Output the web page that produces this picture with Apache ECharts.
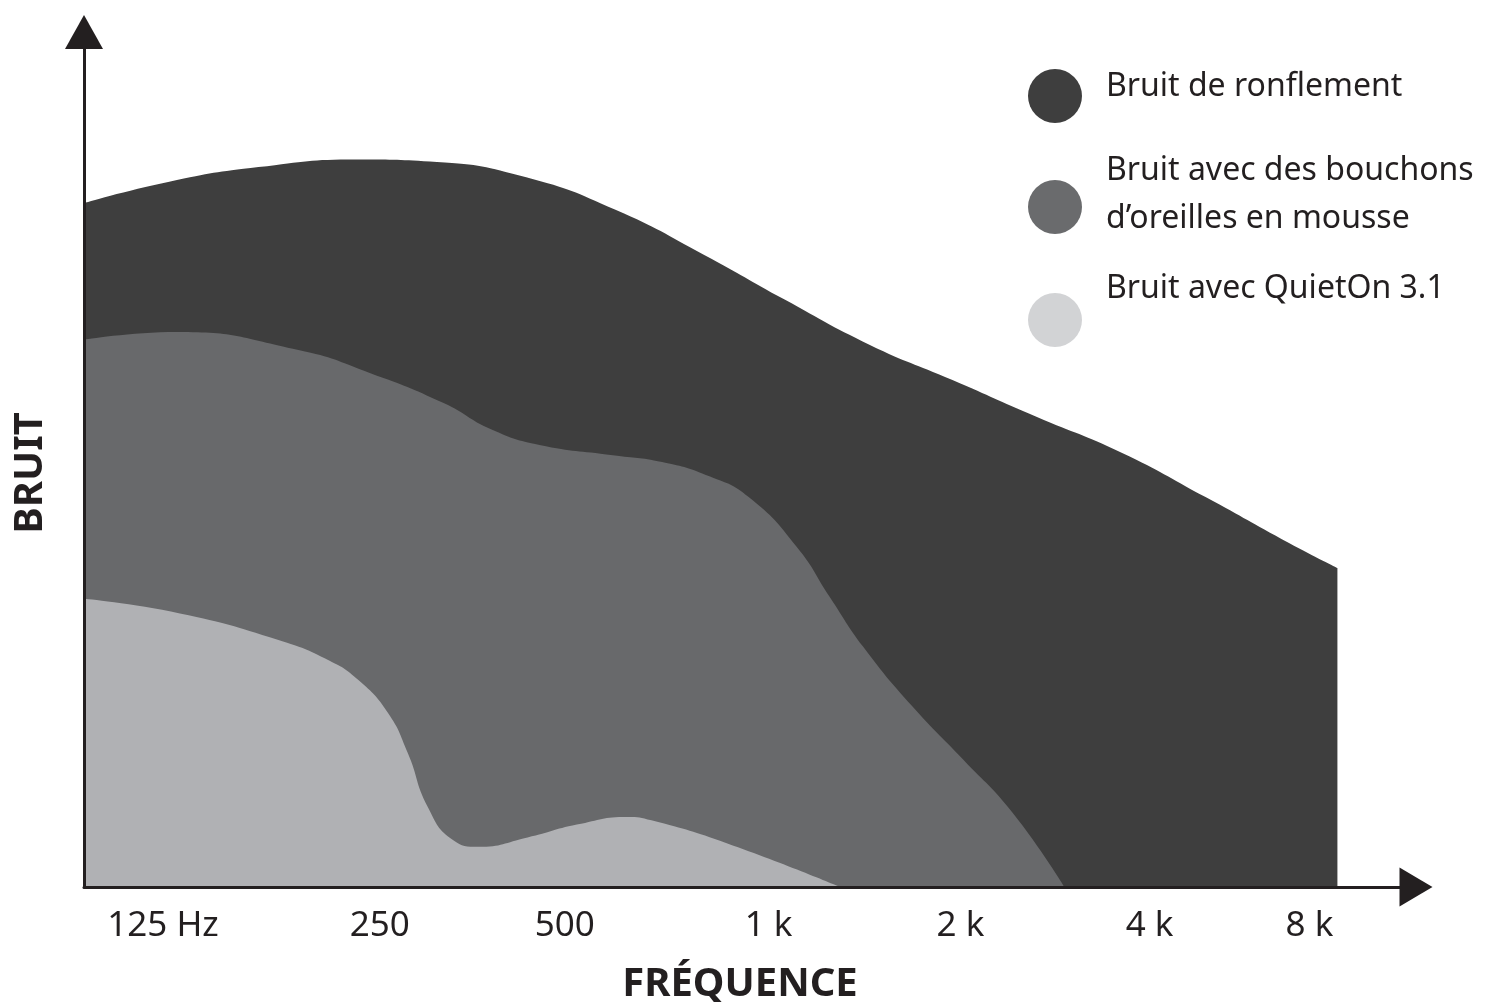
<!DOCTYPE html>
<html><head><meta charset="utf-8">
<script src="https://cdn.jsdelivr.net/npm/echarts@6/dist/echarts.min.js"></script>
<style>html,body{margin:0;padding:0;background:#fff}#c{width:1486px;height:1002px}</style>
</head><body><div id="c"></div>
<script>
// Tick positions along the frequency axis (0-100 scale) and their labels
const tickPositions = [5.93, 22.2, 36.1, 51.4, 65.8, 80.0, 92.0];
const tickLabels = ['125 Hz', '250', '500', '1 k', '2 k', '4 k', '8 k'];

const seriesNames = ['Bruit de ronflement', 'Bruit avec des bouchons\nd’oreilles en mousse', 'Bruit avec QuietOn 3.1'];

// Snoring noise
const snoringX = [0, 6.4, 13.1, 20.5, 26.5, 33.2, 39.9, 46.6, 52.6, 59.0, 65.2, 71.5, 77.9, 84.2, 90.5, 94.1];
const snoringY = [80.0, 82.5, 84.2, 85.1, 84.8, 83.0, 79.2, 73.9, 68.7, 63.4, 59.3, 55.0, 50.8, 45.6, 40.2, 37.3];

// Foam earplugs
const foamX = [0, 7.0, 16.1, 21.5, 27.0, 30.6, 34.2, 39.7, 43.4, 47.0, 49.9, 53.5, 56.0, 58.5, 62.2, 66.0, 69.7, 73.6];
const foamY = [64.0, 64.9, 62.8, 60.1, 56.6, 53.5, 51.7, 50.5, 49.7, 48.0, 45.6, 39.8, 33.9, 28.1, 21.1, 14.9, 8.7, 0];

// QuietOn 3.1
const quietX = [0, 7.2, 14.6, 18.4, 20.6, 22.8, 24.3, 25.8, 27.7, 29.6, 33.3, 37.0, 40.8, 42.6, 48.3, 56.8];
const quietY = [33.7, 32.0, 28.9, 26.5, 24.2, 20.4, 15.7, 9.4, 5.5, 4.7, 5.8, 7.3, 8.2, 7.8, 5.1, 0];

const areaColors = ['#3e3e3e', '#68696b', '#b0b1b4'];
const legendColors = ['#3e3e3e', '#6a6b6d', '#d2d3d5'];
const FONT = '"Noto Sans", "Open Sans", sans-serif';
const INK = '#231f20';

const zip = (xs, ys) => xs.map((x, i) => [x, ys[i]]);

const chart = echarts.init(document.getElementById('c'), null, {renderer: 'canvas'});

const mkSeries = (name, xs, ys, color) => ({
  name, type: 'line', data: zip(xs, ys), smooth: 0.5, symbol: 'none', showSymbol: false,
  lineStyle: {width: 0, color}, itemStyle: {color},
  areaStyle: {color, opacity: 1}, silent: true
});

const legendY = [96, 207, 320];
const legendTextY = [87, 195, 289];
const graphics = [];
seriesNames.forEach((n, i) => {
  graphics.push({type: 'circle', shape: {cx: 1055, cy: legendY[i], r: 27}, style: {fill: legendColors[i]}, z: 10});
  graphics.push({type: 'text', x: 1106, y: legendTextY[i], z: 10,
    style: {text: n, font: '32px ' + FONT, fill: INK, verticalAlign: 'middle', align: 'left', lineHeight: 48}});
});

chart.setOption({
  animation: false,
  backgroundColor: '#fff',
  grid: {left: 84, right: 70, top: 32, bottom: 115, containLabel: false, outerBoundsMode: 'none'},
  xAxis: {
    type: 'value', min: 0, max: 100, z: 5,
    axisLine: {show: true, onZero: false, lineStyle: {color: INK, width: 3}, symbol: ['none', 'triangle'], symbolSize: [39, 33]},
    axisTick: {show: false}, splitLine: {show: false},
    axisLabel: {
      customValues: tickPositions,
      formatter: v => { const i = tickPositions.findIndex(p => Math.abs(p - v) < 1e-6); return i >= 0 ? tickLabels[i] : ''; },
      fontSize: 35, color: INK, fontFamily: FONT, margin: 39, verticalAlign: 'middle', lineHeight: 35
    },
    name: 'FRÉQUENCE', nameLocation: 'middle', nameGap: 78,
    nameTextStyle: {fontSize: 40, fontWeight: 'bold', color: INK, fontFamily: FONT, padding: [0, 20, 0, 0]}
  },
  yAxis: {
    type: 'value', min: 0, max: 100, z: 5,
    axisLine: {show: true, onZero: false, lineStyle: {color: INK, width: 3}, symbol: ['none', 'triangle'], symbolSize: [38, 34]},
    axisTick: {show: false}, splitLine: {show: false}, axisLabel: {show: false},
    name: 'BRUIT', nameLocation: 'middle', nameGap: 33,
    nameTextStyle: {fontSize: 40, fontWeight: 'bold', color: INK, fontFamily: FONT, padding: [0, 27, 0, 0]}
  },
  series: [
    mkSeries(seriesNames[0], snoringX, snoringY, areaColors[0]),
    mkSeries(seriesNames[1], foamX, foamY, areaColors[1]),
    mkSeries(seriesNames[2], quietX, quietY, areaColors[2])
  ],
  graphic: graphics
});
</script></body></html>
